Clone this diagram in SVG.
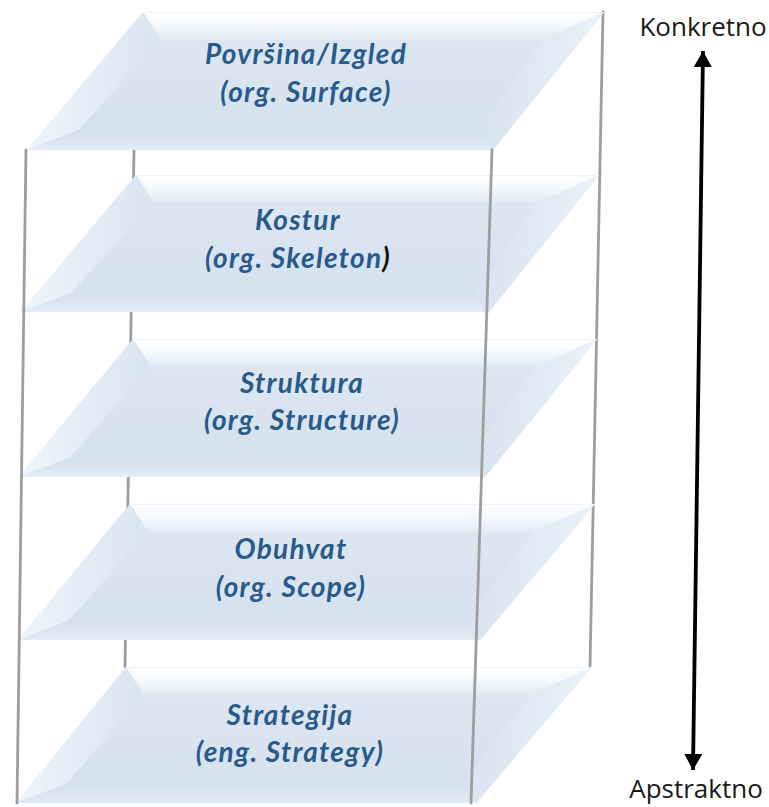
<svg xmlns="http://www.w3.org/2000/svg" width="769" height="807" viewBox="0 0 769 807">
<style>
.frame{stroke:#9e9e9e;stroke-width:2.8;fill:none;stroke-linecap:round}
.ctr{fill:url(#gCenter)}
.top{fill:url(#gTop)}
.lft{fill:url(#gLeft)}
.rgt{fill:url(#gRight)}
.bot{fill:url(#gBottom)}
.edge{stroke:#a4a4a4;stroke-width:2.4;fill:none;filter:url(#soft)}
.topedge{stroke:#eef4fb;stroke-width:1.2;fill:none}
.lbl{font-family:Lato,"Open Sans","Liberation Sans",sans-serif;font-style:italic;font-weight:700;font-size:28px;fill:#285a8b;text-anchor:middle;letter-spacing:1.3px}
.side{font-family:"Open Sans","Liberation Sans",sans-serif;font-size:26px;fill:#1a1a1a;text-anchor:middle}
.arr{stroke:#000;stroke-width:3.8;fill:none}
</style>
<defs>
<linearGradient id="gCenter" x1="0" y1="0" x2="0" y2="1">
<stop offset="0" stop-color="#dfe9f4"/>
<stop offset="1" stop-color="#d4e0ed"/>
</linearGradient>
<linearGradient id="gTop" x1="0" y1="0" x2="0" y2="1">
<stop offset="0" stop-color="#ffffff"/>
<stop offset="0.5" stop-color="#f4f8fc"/>
<stop offset="1" stop-color="#e1ebf5"/>
</linearGradient>
<linearGradient id="gLeft" x1="0" y1="0" x2="1" y2="0">
<stop offset="0" stop-color="#eef5fc"/>
<stop offset="1" stop-color="#d9e5f2"/>
</linearGradient>
<linearGradient id="gRight" x1="0" y1="0" x2="1" y2="0">
<stop offset="0" stop-color="#d7e3f0"/>
<stop offset="1" stop-color="#eaf2fa"/>
</linearGradient>
<linearGradient id="gBottom" x1="0" y1="0" x2="0" y2="1">
<stop offset="0" stop-color="#d4e0ed"/>
<stop offset="1" stop-color="#e3ecf6"/>
</linearGradient>
<filter id="soft" x="-5%" y="-50%" width="110%" height="200%">
<feGaussianBlur stdDeviation="0.6"/>
</filter>
<marker id="ah" viewBox="0 0 16 18" refX="16" refY="9" markerWidth="16" markerHeight="18" markerUnits="userSpaceOnUse" orient="auto-start-reverse">
<path d="M0,0 L16,9 L0,18 z" fill="#000"/>
</marker>
</defs>

<g id="frame-back">
<line class="frame" x1="134" y1="150" x2="125" y2="667"/>
<line class="frame" x1="603" y1="12" x2="590" y2="667"/>
</g>

<g id="layer-surface">
<polygon class="ctr" points="143,12 604,12 493,150 27,150"/>
<polygon class="top" points="143,12 604,12 543,40 161,40"/>
<polygon class="lft" points="143,12 161,40 77,131 27,150"/>
<polygon class="rgt" points="604,12 493,150 477,131 543,40"/>
<polygon class="bot" points="27,150 77,131 477,131 493,150"/>
<line class="topedge" x1="143" y1="12.5" x2="604" y2="12.5"/>
<line class="edge" x1="27" y1="150" x2="493" y2="150"/>
<text class="lbl" x="306" y="64">Površina/Izgled</text>
<text class="lbl" x="306" y="102">(org. Surface)</text>
</g>

<g id="layer-skeleton">
<polygon class="ctr" points="136,175 599,175 489,312 21,312"/>
<polygon class="top" points="136,175 599,175 538,203 154,203"/>
<polygon class="lft" points="136,175 154,203 71,293 21,312"/>
<polygon class="rgt" points="599,175 489,312 473,293 538,203"/>
<polygon class="bot" points="21,312 71,293 473,293 489,312"/>
<line class="topedge" x1="136" y1="175.5" x2="599" y2="175.5"/>
<line class="edge" x1="21" y1="312" x2="489" y2="312"/>
<text class="lbl" x="298" y="230">Kostur</text>
<text class="lbl" x="298" y="268">(org. Skeleton<tspan fill="#111">)</tspan></text>
</g>

<g id="layer-structure">
<polygon class="ctr" points="133,339 597,339 485,477 19,477"/>
<polygon class="top" points="133,339 597,339 536,367 151,367"/>
<polygon class="lft" points="133,339 151,367 69,458 19,477"/>
<polygon class="rgt" points="597,339 485,477 469,458 536,367"/>
<polygon class="bot" points="19,477 69,458 469,458 485,477"/>
<line class="topedge" x1="133" y1="339.5" x2="597" y2="339.5"/>
<line class="edge" x1="19" y1="477" x2="485" y2="477"/>
<text class="lbl" x="302" y="393">Struktura</text>
<text class="lbl" x="302" y="430">(org. Structure)</text>
</g>

<g id="layer-scope">
<polygon class="ctr" points="130,504 595,504 480,640 18,640"/>
<polygon class="top" points="130,504 595,504 534,532 148,532"/>
<polygon class="lft" points="130,504 148,532 68,621 18,640"/>
<polygon class="rgt" points="595,504 480,640 464,621 534,532"/>
<polygon class="bot" points="18,640 68,621 464,621 480,640"/>
<line class="topedge" x1="130" y1="504.5" x2="595" y2="504.5"/>
<line class="edge" x1="18" y1="640" x2="480" y2="640"/>
<text class="lbl" x="291" y="559">Obuhvat</text>
<text class="lbl" x="291" y="597">(org. Scope)</text>
</g>

<g id="layer-strategy">
<polygon class="ctr" points="126,667 592,667 476,803 16,803"/>
<polygon class="top" points="126,667 592,667 531,695 144,695"/>
<polygon class="lft" points="126,667 144,695 66,784 16,803"/>
<polygon class="rgt" points="592,667 476,803 460,784 531,695"/>
<polygon class="bot" points="16,803 66,784 460,784 476,803"/>
<line class="topedge" x1="126" y1="667.5" x2="592" y2="667.5"/>
<line class="edge" x1="16" y1="803" x2="476" y2="803"/>
<text class="lbl" x="290" y="725">Strategija</text>
<text class="lbl" x="290" y="762">(eng. Strategy)</text>
</g>

<g id="frame-front">
<line class="frame" x1="26" y1="150" x2="17" y2="803"/>
<line class="frame" x1="492" y1="150" x2="471" y2="803"/>
</g>

<g id="connectors">
<line class="arr" x1="703" y1="51" x2="693" y2="770" marker-start="url(#ah)" marker-end="url(#ah)"/>
</g>

<g id="label-konkretno">
<text class="side" x="703" y="36">Konkretno</text>
</g>
<g id="label-apstraktno">
<text class="side" x="696" y="798">Apstraktno</text>
</g>
</svg>
